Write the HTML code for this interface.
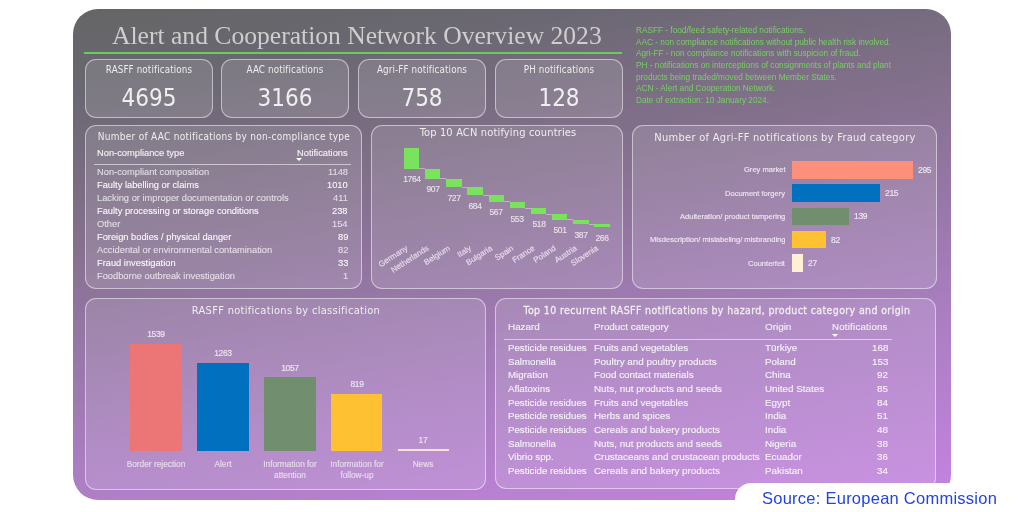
<!DOCTYPE html>
<html><head><meta charset="utf-8"><title>ACN Overview 2023</title>
<style>
    *{margin:0;padding:0;box-sizing:border-box}
    html,body{width:1024px;height:512px;overflow:hidden;background:#fff}
    body{position:relative;font-family:"Liberation Sans",Arial,sans-serif}
    .abs{position:absolute}
    .t{position:absolute;white-space:nowrap;line-height:1;will-change:transform}
    #main{position:absolute;left:73px;top:9px;width:878px;height:491px;border-radius:25px;
     background:linear-gradient(170deg,#656565 0%,#696770 12%,#83708c 35%,#a97ec0 70%,#c483e0 100%)}
    .pnl{position:absolute;border:1px solid rgba(255,255,255,.5);background:rgba(255,255,255,.12);border-radius:11px}
    </style></head><body>
<div id="main"></div>
<div class="t" style="top:23px;font-size:25.6px;color:#cecece;left:111.60px;font-family:'Liberation Serif',serif;">Alert and Cooperation Network Overview 2023</div>
<div class="abs" style="left:84.00px;top:52.00px;width:538.00px;height:2.00px;background:#6bcb5b;"></div>
<div class="pnl" style="left:85px;top:59px;width:128px;height:59px"></div>
<div class="t" style="top:65px;font-size:9.75px;color:#ececec;left:-151.00px;width:600px;text-align:center;font-family:'DejaVu Sans Condensed','Liberation Sans',sans-serif;letter-spacing:0.12px;">RASFF notifications</div>
<div class="t" style="top:86px;font-size:24px;color:#efefef;left:-151.00px;width:600px;text-align:center;font-family:'DejaVu Sans Condensed','Liberation Sans',sans-serif;letter-spacing:0px;">4695</div>
<div class="pnl" style="left:221px;top:59px;width:128px;height:59px"></div>
<div class="t" style="top:65px;font-size:9.75px;color:#ececec;left:-15.00px;width:600px;text-align:center;font-family:'DejaVu Sans Condensed','Liberation Sans',sans-serif;letter-spacing:0.12px;">AAC notifications</div>
<div class="t" style="top:86px;font-size:24px;color:#efefef;left:-15.00px;width:600px;text-align:center;font-family:'DejaVu Sans Condensed','Liberation Sans',sans-serif;letter-spacing:0px;">3166</div>
<div class="pnl" style="left:358px;top:59px;width:128px;height:59px"></div>
<div class="t" style="top:65px;font-size:9.75px;color:#ececec;left:122.00px;width:600px;text-align:center;font-family:'DejaVu Sans Condensed','Liberation Sans',sans-serif;letter-spacing:0.12px;">Agri-FF notifications</div>
<div class="t" style="top:86px;font-size:24px;color:#efefef;left:122.00px;width:600px;text-align:center;font-family:'DejaVu Sans Condensed','Liberation Sans',sans-serif;letter-spacing:0px;">758</div>
<div class="pnl" style="left:495px;top:59px;width:128px;height:59px"></div>
<div class="t" style="top:65px;font-size:9.75px;color:#ececec;left:259.00px;width:600px;text-align:center;font-family:'DejaVu Sans Condensed','Liberation Sans',sans-serif;letter-spacing:0.12px;">PH notifications</div>
<div class="t" style="top:86px;font-size:24px;color:#efefef;left:259.00px;width:600px;text-align:center;font-family:'DejaVu Sans Condensed','Liberation Sans',sans-serif;letter-spacing:0px;">128</div>
<div class="t" style="top:27px;font-size:8.25px;color:#78d064;left:635.80px;">RASFF - food/feed safety-related notifications.</div>
<div class="t" style="top:39px;font-size:8.25px;color:#78d064;left:635.80px;">AAC - non compliance notifications without public health risk involved.</div>
<div class="t" style="top:50px;font-size:8.25px;color:#78d064;left:635.80px;">Agri-FF - non compliance notifications with suspicion of fraud.</div>
<div class="t" style="top:62px;font-size:8.25px;color:#78d064;left:635.80px;">PH - notifications on interceptions of consignments of plants and plant</div>
<div class="t" style="top:74px;font-size:8.25px;color:#78d064;left:635.80px;">products being traded/moved between Member States.</div>
<div class="t" style="top:85px;font-size:8.25px;color:#78d064;left:635.80px;">ACN - Alert and Cooperation Network.</div>
<div class="t" style="top:97px;font-size:8.25px;color:#78d064;left:635.80px;">Date of extraction: 10 January 2024.</div>
<div class="pnl" style="left:85px;top:125px;width:277px;height:164px"></div>
<div class="pnl" style="left:371px;top:125px;width:252px;height:164px"></div>
<div class="pnl" style="left:632px;top:125px;width:305px;height:164px"></div>
<div class="pnl" style="left:85px;top:298px;width:401px;height:192px"></div>
<div class="pnl" style="left:495px;top:298px;width:441px;height:191px"></div>
<div class="t" style="top:132px;font-size:10px;color:#eeeeee;left:-76.50px;width:600px;text-align:center;font-family:'DejaVu Sans Condensed','Liberation Sans',sans-serif;letter-spacing:0.27px;">Number of AAC notifications by non-compliance type</div>
<div class="t" style="top:149px;font-size:9.3px;color:#f0f0f0;left:97.30px;-webkit-text-stroke:0.15px currentColor;">Non-compliance type</div>
<div class="t" style="top:149px;font-size:9.3px;color:#f0f0f0;right:676.50px;-webkit-text-stroke:0.15px currentColor;">Notifications</div>
<div class="abs" style="left:296.00px;top:158.20px;width:0;height:0;border-left:3.00px solid transparent;border-right:3.00px solid transparent;border-top:3.80px solid #ffffff"></div>
<div class="abs" style="left:93.70px;top:164.00px;width:257.80px;height:1.00px;background:rgba(255,255,255,.55);"></div>
<div class="t" style="top:168px;font-size:9.3px;color:rgba(255,255,255,.72);left:97.20px;-webkit-text-stroke:0.08px currentColor;">Non-compliant composition</div>
<div class="t" style="top:168px;font-size:9.3px;color:rgba(255,255,255,.72);right:676.00px;-webkit-text-stroke:0.08px currentColor;">1148</div>
<div class="t" style="top:181px;font-size:9.3px;color:rgba(255,255,255,.96);left:97.20px;-webkit-text-stroke:0.08px currentColor;">Faulty labelling or claims</div>
<div class="t" style="top:181px;font-size:9.3px;color:rgba(255,255,255,.96);right:676.00px;-webkit-text-stroke:0.08px currentColor;">1010</div>
<div class="t" style="top:194px;font-size:9.3px;color:rgba(255,255,255,.72);left:97.20px;-webkit-text-stroke:0.08px currentColor;">Lacking or improper documentation or controls</div>
<div class="t" style="top:194px;font-size:9.3px;color:rgba(255,255,255,.72);right:676.00px;-webkit-text-stroke:0.08px currentColor;">411</div>
<div class="t" style="top:207px;font-size:9.3px;color:rgba(255,255,255,.96);left:97.20px;-webkit-text-stroke:0.08px currentColor;">Faulty processing or storage conditions</div>
<div class="t" style="top:207px;font-size:9.3px;color:rgba(255,255,255,.96);right:676.00px;-webkit-text-stroke:0.08px currentColor;">238</div>
<div class="t" style="top:220px;font-size:9.3px;color:rgba(255,255,255,.72);left:97.20px;-webkit-text-stroke:0.08px currentColor;">Other</div>
<div class="t" style="top:220px;font-size:9.3px;color:rgba(255,255,255,.72);right:676.00px;-webkit-text-stroke:0.08px currentColor;">154</div>
<div class="t" style="top:233px;font-size:9.3px;color:rgba(255,255,255,.96);left:97.20px;-webkit-text-stroke:0.08px currentColor;">Foreign bodies / physical danger</div>
<div class="t" style="top:233px;font-size:9.3px;color:rgba(255,255,255,.96);right:676.00px;-webkit-text-stroke:0.08px currentColor;">89</div>
<div class="t" style="top:246px;font-size:9.3px;color:rgba(255,255,255,.72);left:97.20px;-webkit-text-stroke:0.08px currentColor;">Accidental or environmental contamination</div>
<div class="t" style="top:246px;font-size:9.3px;color:rgba(255,255,255,.72);right:676.00px;-webkit-text-stroke:0.08px currentColor;">82</div>
<div class="t" style="top:259px;font-size:9.3px;color:rgba(255,255,255,.96);left:97.20px;-webkit-text-stroke:0.08px currentColor;">Fraud investigation</div>
<div class="t" style="top:259px;font-size:9.3px;color:rgba(255,255,255,.96);right:676.00px;-webkit-text-stroke:0.08px currentColor;">33</div>
<div class="t" style="top:272px;font-size:9.3px;color:rgba(255,255,255,.72);left:97.20px;-webkit-text-stroke:0.08px currentColor;">Foodborne outbreak investigation</div>
<div class="t" style="top:272px;font-size:9.3px;color:rgba(255,255,255,.72);right:676.00px;-webkit-text-stroke:0.08px currentColor;">1</div>
<div class="t" style="top:127px;font-size:11px;color:#eeeeee;left:197.50px;width:600px;text-align:center;font-family:'DejaVu Sans Condensed','Liberation Sans',sans-serif;letter-spacing:0.16px;">Top 10 ACN notifying countries</div>
<div class="abs" style="left:403.90px;top:148.20px;width:15.30px;height:20.32px;background:#7ae35e;"></div>
<div class="abs" style="left:419.20px;top:168.02px;width:5.87px;height:0.80px;background:rgba(200,190,205,.8);"></div>
<div class="t" style="top:175px;font-size:8.5px;color:#e8e0ea;left:111.55px;width:600px;text-align:center;letter-spacing:-0.35px;-webkit-text-stroke:0.15px currentColor;">1764</div>
<div class="abs" style="left:425.07px;top:168.52px;width:15.30px;height:10.45px;background:#7ae35e;"></div>
<div class="abs" style="left:440.37px;top:178.47px;width:5.87px;height:0.80px;background:rgba(200,190,205,.8);"></div>
<div class="t" style="top:185px;font-size:8.5px;color:#e8e0ea;left:132.72px;width:600px;text-align:center;letter-spacing:-0.35px;-webkit-text-stroke:0.15px currentColor;">907</div>
<div class="abs" style="left:446.24px;top:178.97px;width:15.30px;height:8.38px;background:#7ae35e;"></div>
<div class="abs" style="left:461.54px;top:186.84px;width:5.87px;height:0.80px;background:rgba(200,190,205,.8);"></div>
<div class="t" style="top:194px;font-size:8.5px;color:#e8e0ea;left:153.89px;width:600px;text-align:center;letter-spacing:-0.35px;-webkit-text-stroke:0.15px currentColor;">727</div>
<div class="abs" style="left:467.41px;top:187.34px;width:15.30px;height:7.88px;background:#7ae35e;"></div>
<div class="abs" style="left:482.71px;top:194.72px;width:5.87px;height:0.80px;background:rgba(200,190,205,.8);"></div>
<div class="t" style="top:202px;font-size:8.5px;color:#e8e0ea;left:175.06px;width:600px;text-align:center;letter-spacing:-0.35px;-webkit-text-stroke:0.15px currentColor;">684</div>
<div class="abs" style="left:488.58px;top:195.22px;width:15.30px;height:6.53px;background:#7ae35e;"></div>
<div class="abs" style="left:503.88px;top:201.26px;width:5.87px;height:0.80px;background:rgba(200,190,205,.8);"></div>
<div class="t" style="top:208px;font-size:8.5px;color:#e8e0ea;left:196.23px;width:600px;text-align:center;letter-spacing:-0.35px;-webkit-text-stroke:0.15px currentColor;">567</div>
<div class="abs" style="left:509.75px;top:201.76px;width:15.30px;height:6.37px;background:#7ae35e;"></div>
<div class="abs" style="left:525.05px;top:207.63px;width:5.87px;height:0.80px;background:rgba(200,190,205,.8);"></div>
<div class="t" style="top:215px;font-size:8.5px;color:#e8e0ea;left:217.40px;width:600px;text-align:center;letter-spacing:-0.35px;-webkit-text-stroke:0.15px currentColor;">553</div>
<div class="abs" style="left:530.92px;top:208.13px;width:15.30px;height:5.97px;background:#7ae35e;"></div>
<div class="abs" style="left:546.22px;top:213.59px;width:5.87px;height:0.80px;background:rgba(200,190,205,.8);"></div>
<div class="t" style="top:220px;font-size:8.5px;color:#e8e0ea;left:238.57px;width:600px;text-align:center;letter-spacing:-0.35px;-webkit-text-stroke:0.15px currentColor;">518</div>
<div class="abs" style="left:552.09px;top:214.09px;width:15.30px;height:5.77px;background:#7ae35e;"></div>
<div class="abs" style="left:567.39px;top:219.37px;width:5.87px;height:0.80px;background:rgba(200,190,205,.8);"></div>
<div class="t" style="top:226px;font-size:8.5px;color:#e8e0ea;left:259.74px;width:600px;text-align:center;letter-spacing:-0.35px;-webkit-text-stroke:0.15px currentColor;">501</div>
<div class="abs" style="left:573.26px;top:219.87px;width:15.30px;height:4.46px;background:#7ae35e;"></div>
<div class="abs" style="left:588.56px;top:223.82px;width:5.87px;height:0.80px;background:rgba(200,190,205,.8);"></div>
<div class="t" style="top:231px;font-size:8.5px;color:#e8e0ea;left:280.91px;width:600px;text-align:center;letter-spacing:-0.35px;-webkit-text-stroke:0.15px currentColor;">387</div>
<div class="abs" style="left:594.43px;top:224.32px;width:15.30px;height:3.06px;background:#7ae35e;"></div>
<div class="t" style="top:234px;font-size:8.5px;color:#e8e0ea;left:302.08px;width:600px;text-align:center;letter-spacing:-0.35px;-webkit-text-stroke:0.15px currentColor;">266</div>
<svg class="abs" style="left:0;top:0;will-change:transform" width="1024" height="512"><g font-family="Liberation Sans, Arial, sans-serif" font-size="8" fill="#e6dcea" stroke="#e6dcea" stroke-width="0.15"><text x="408.25" y="249.5" text-anchor="end" transform="rotate(-33 408.25 249.5)">Germany</text><text x="429.42" y="249.5" text-anchor="end" transform="rotate(-33 429.42 249.5)">Netherlands</text><text x="450.59" y="249.5" text-anchor="end" transform="rotate(-33 450.59 249.5)">Belgium</text><text x="471.76" y="249.5" text-anchor="end" transform="rotate(-33 471.76 249.5)">Italy</text><text x="492.93" y="249.5" text-anchor="end" transform="rotate(-33 492.93 249.5)">Bulgaria</text><text x="514.10" y="249.5" text-anchor="end" transform="rotate(-33 514.10 249.5)">Spain</text><text x="535.27" y="249.5" text-anchor="end" transform="rotate(-33 535.27 249.5)">France</text><text x="556.44" y="249.5" text-anchor="end" transform="rotate(-33 556.44 249.5)">Poland</text><text x="577.61" y="249.5" text-anchor="end" transform="rotate(-33 577.61 249.5)">Austria</text><text x="598.78" y="249.5" text-anchor="end" transform="rotate(-33 598.78 249.5)">Slovenia</text></g></svg>
<div class="t" style="top:132px;font-size:11px;color:#eeeeee;left:484.50px;width:600px;text-align:center;font-family:'DejaVu Sans Condensed','Liberation Sans',sans-serif;letter-spacing:0.29px;">Number of Agri-FF notifications by Fraud category</div>
<div class="abs" style="left:791.90px;top:160.90px;width:120.95px;height:17.70px;background:#fd907a;"></div>
<div class="t" style="top:166px;font-size:7.55px;color:#eee6f0;right:238.70px;-webkit-text-stroke:0.15px currentColor;">Grey market</div>
<div class="t" style="top:166px;font-size:8.5px;color:#eee6f0;left:917.85px;letter-spacing:-0.3px;-webkit-text-stroke:0.15px currentColor;">295</div>
<div class="abs" style="left:791.90px;top:184.20px;width:88.15px;height:17.70px;background:#0070bf;"></div>
<div class="t" style="top:190px;font-size:7.55px;color:#eee6f0;right:238.70px;-webkit-text-stroke:0.15px currentColor;">Document forgery</div>
<div class="t" style="top:189px;font-size:8.5px;color:#eee6f0;left:885.05px;letter-spacing:-0.3px;-webkit-text-stroke:0.15px currentColor;">215</div>
<div class="abs" style="left:791.90px;top:207.50px;width:56.99px;height:17.70px;background:#718f6f;"></div>
<div class="t" style="top:213px;font-size:7.55px;color:#eee6f0;right:238.70px;-webkit-text-stroke:0.15px currentColor;">Adulteration/ product tampering</div>
<div class="t" style="top:212px;font-size:8.5px;color:#eee6f0;left:853.89px;letter-spacing:-0.3px;-webkit-text-stroke:0.15px currentColor;">139</div>
<div class="abs" style="left:791.90px;top:230.80px;width:33.62px;height:17.70px;background:#fdc132;"></div>
<div class="t" style="top:236px;font-size:7.55px;color:#eee6f0;right:238.70px;-webkit-text-stroke:0.15px currentColor;">Misdescription/ mislabeling/ misbranding</div>
<div class="t" style="top:236px;font-size:8.5px;color:#eee6f0;left:830.52px;letter-spacing:-0.3px;-webkit-text-stroke:0.15px currentColor;">82</div>
<div class="abs" style="left:791.90px;top:254.10px;width:11.07px;height:17.70px;background:#fff0d4;"></div>
<div class="t" style="top:260px;font-size:7.55px;color:#eee6f0;right:238.70px;-webkit-text-stroke:0.15px currentColor;">Counterfeit</div>
<div class="t" style="top:259px;font-size:8.5px;color:#eee6f0;left:807.97px;letter-spacing:-0.3px;-webkit-text-stroke:0.15px currentColor;">27</div>
<div class="t" style="top:305px;font-size:11px;color:#eeeeee;left:-14.50px;width:600px;text-align:center;font-family:'DejaVu Sans Condensed','Liberation Sans',sans-serif;letter-spacing:0.3px;">RASFF notifications by classification</div>
<div class="abs" style="left:130.40px;top:343.64px;width:51.60px;height:106.96px;background:#ec7675;"></div>
<div class="t" style="top:330px;font-size:8.5px;color:#eee6f0;left:-143.80px;width:600px;text-align:center;letter-spacing:-0.35px;-webkit-text-stroke:0.15px currentColor;">1539</div>
<div class="t" style="top:460px;font-size:8.3px;color:#e6dcea;left:-143.80px;width:600px;text-align:center;-webkit-text-stroke:0.15px currentColor;">Border rejection</div>
<div class="abs" style="left:197.20px;top:362.82px;width:51.60px;height:87.78px;background:#0070bf;"></div>
<div class="t" style="top:349px;font-size:8.5px;color:#eee6f0;left:-77.00px;width:600px;text-align:center;letter-spacing:-0.35px;-webkit-text-stroke:0.15px currentColor;">1263</div>
<div class="t" style="top:460px;font-size:8.3px;color:#e6dcea;left:-77.00px;width:600px;text-align:center;-webkit-text-stroke:0.15px currentColor;">Alert</div>
<div class="abs" style="left:264.00px;top:377.14px;width:51.60px;height:73.46px;background:#718f6f;"></div>
<div class="t" style="top:364px;font-size:8.5px;color:#eee6f0;left:-10.20px;width:600px;text-align:center;letter-spacing:-0.35px;-webkit-text-stroke:0.15px currentColor;">1057</div>
<div class="t" style="top:460px;font-size:8.3px;color:#e6dcea;left:-10.20px;width:600px;text-align:center;-webkit-text-stroke:0.15px currentColor;">Information for</div>
<div class="t" style="top:471px;font-size:8.3px;color:#e6dcea;left:-10.20px;width:600px;text-align:center;-webkit-text-stroke:0.15px currentColor;">attention</div>
<div class="abs" style="left:330.80px;top:393.68px;width:51.60px;height:56.92px;background:#fdc132;"></div>
<div class="t" style="top:380px;font-size:8.5px;color:#eee6f0;left:56.60px;width:600px;text-align:center;letter-spacing:-0.35px;-webkit-text-stroke:0.15px currentColor;">819</div>
<div class="t" style="top:460px;font-size:8.3px;color:#e6dcea;left:56.60px;width:600px;text-align:center;-webkit-text-stroke:0.15px currentColor;">Information for</div>
<div class="t" style="top:471px;font-size:8.3px;color:#e6dcea;left:56.60px;width:600px;text-align:center;-webkit-text-stroke:0.15px currentColor;">follow-up</div>
<div class="abs" style="left:397.60px;top:449.42px;width:51.60px;height:1.18px;background:#f5e3da;"></div>
<div class="t" style="top:436px;font-size:8.5px;color:#eee6f0;left:123.40px;width:600px;text-align:center;letter-spacing:-0.35px;-webkit-text-stroke:0.15px currentColor;">17</div>
<div class="t" style="top:460px;font-size:8.3px;color:#e6dcea;left:123.40px;width:600px;text-align:center;-webkit-text-stroke:0.15px currentColor;">News</div>
<div class="t" style="top:305px;font-size:10.5px;color:#eeeeee;left:416.60px;width:600px;text-align:center;font-family:'DejaVu Sans Condensed','Liberation Sans',sans-serif;letter-spacing:0.38px;-webkit-text-stroke:0.3px #eeeeee;">Top 10 recurrent RASFF notifications by hazard, product category and origin</div>
<div class="t" style="top:322px;font-size:9.9px;color:#f0f0f0;left:507.80px;-webkit-text-stroke:0.15px currentColor;">Hazard</div>
<div class="t" style="top:322px;font-size:9.9px;color:#f0f0f0;left:593.50px;-webkit-text-stroke:0.15px currentColor;">Product category</div>
<div class="t" style="top:322px;font-size:9.9px;color:#f0f0f0;left:765.40px;-webkit-text-stroke:0.15px currentColor;">Origin</div>
<div class="t" style="top:322px;font-size:9.65px;color:#f0f0f0;right:136.50px;letter-spacing:0.25px;-webkit-text-stroke:0.15px currentColor;">Notifications</div>
<div class="abs" style="left:832.10px;top:333.60px;width:0;height:0;border-left:3.00px solid transparent;border-right:3.00px solid transparent;border-top:3.80px solid #ffffff"></div>
<div class="abs" style="left:504.20px;top:339.00px;width:387.80px;height:1.00px;background:rgba(255,255,255,.55);"></div>
<div class="t" style="top:343px;font-size:9.7px;color:#f4f0f6;left:507.80px;-webkit-text-stroke:0.15px currentColor;">Pesticide residues</div>
<div class="t" style="top:343px;font-size:9.85px;color:#f4f0f6;left:593.50px;-webkit-text-stroke:0.15px currentColor;">Fruits and vegetables</div>
<div class="t" style="top:343px;font-size:9.85px;color:#f4f0f6;left:765.40px;-webkit-text-stroke:0.15px currentColor;">Türkiye</div>
<div class="t" style="top:343px;font-size:9.85px;color:#f4f0f6;right:136.00px;-webkit-text-stroke:0.15px currentColor;">168</div>
<div class="t" style="top:357px;font-size:9.7px;color:#f4f0f6;left:507.80px;-webkit-text-stroke:0.15px currentColor;">Salmonella</div>
<div class="t" style="top:357px;font-size:9.85px;color:#f4f0f6;left:593.50px;-webkit-text-stroke:0.15px currentColor;">Poultry and poultry products</div>
<div class="t" style="top:357px;font-size:9.85px;color:#f4f0f6;left:765.40px;-webkit-text-stroke:0.15px currentColor;">Poland</div>
<div class="t" style="top:357px;font-size:9.85px;color:#f4f0f6;right:136.00px;-webkit-text-stroke:0.15px currentColor;">153</div>
<div class="t" style="top:370px;font-size:9.7px;color:#f4f0f6;left:507.80px;-webkit-text-stroke:0.15px currentColor;">Migration</div>
<div class="t" style="top:370px;font-size:9.85px;color:#f4f0f6;left:593.50px;-webkit-text-stroke:0.15px currentColor;">Food contact materials</div>
<div class="t" style="top:370px;font-size:9.85px;color:#f4f0f6;left:765.40px;-webkit-text-stroke:0.15px currentColor;">China</div>
<div class="t" style="top:370px;font-size:9.85px;color:#f4f0f6;right:136.00px;-webkit-text-stroke:0.15px currentColor;">92</div>
<div class="t" style="top:384px;font-size:9.7px;color:#f4f0f6;left:507.80px;-webkit-text-stroke:0.15px currentColor;">Aflatoxins</div>
<div class="t" style="top:384px;font-size:9.85px;color:#f4f0f6;left:593.50px;-webkit-text-stroke:0.15px currentColor;">Nuts, nut products and seeds</div>
<div class="t" style="top:384px;font-size:9.85px;color:#f4f0f6;left:765.40px;-webkit-text-stroke:0.15px currentColor;">United States</div>
<div class="t" style="top:384px;font-size:9.85px;color:#f4f0f6;right:136.00px;-webkit-text-stroke:0.15px currentColor;">85</div>
<div class="t" style="top:398px;font-size:9.7px;color:#f4f0f6;left:507.80px;-webkit-text-stroke:0.15px currentColor;">Pesticide residues</div>
<div class="t" style="top:398px;font-size:9.85px;color:#f4f0f6;left:593.50px;-webkit-text-stroke:0.15px currentColor;">Fruits and vegetables</div>
<div class="t" style="top:398px;font-size:9.85px;color:#f4f0f6;left:765.40px;-webkit-text-stroke:0.15px currentColor;">Egypt</div>
<div class="t" style="top:398px;font-size:9.85px;color:#f4f0f6;right:136.00px;-webkit-text-stroke:0.15px currentColor;">84</div>
<div class="t" style="top:411px;font-size:9.7px;color:#f4f0f6;left:507.80px;-webkit-text-stroke:0.15px currentColor;">Pesticide residues</div>
<div class="t" style="top:411px;font-size:9.85px;color:#f4f0f6;left:593.50px;-webkit-text-stroke:0.15px currentColor;">Herbs and spices</div>
<div class="t" style="top:411px;font-size:9.85px;color:#f4f0f6;left:765.40px;-webkit-text-stroke:0.15px currentColor;">India</div>
<div class="t" style="top:411px;font-size:9.85px;color:#f4f0f6;right:136.00px;-webkit-text-stroke:0.15px currentColor;">51</div>
<div class="t" style="top:425px;font-size:9.7px;color:#f4f0f6;left:507.80px;-webkit-text-stroke:0.15px currentColor;">Pesticide residues</div>
<div class="t" style="top:425px;font-size:9.85px;color:#f4f0f6;left:593.50px;-webkit-text-stroke:0.15px currentColor;">Cereals and bakery products</div>
<div class="t" style="top:425px;font-size:9.85px;color:#f4f0f6;left:765.40px;-webkit-text-stroke:0.15px currentColor;">India</div>
<div class="t" style="top:425px;font-size:9.85px;color:#f4f0f6;right:136.00px;-webkit-text-stroke:0.15px currentColor;">48</div>
<div class="t" style="top:439px;font-size:9.7px;color:#f4f0f6;left:507.80px;-webkit-text-stroke:0.15px currentColor;">Salmonella</div>
<div class="t" style="top:439px;font-size:9.85px;color:#f4f0f6;left:593.50px;-webkit-text-stroke:0.15px currentColor;">Nuts, nut products and seeds</div>
<div class="t" style="top:439px;font-size:9.85px;color:#f4f0f6;left:765.40px;-webkit-text-stroke:0.15px currentColor;">Nigeria</div>
<div class="t" style="top:439px;font-size:9.85px;color:#f4f0f6;right:136.00px;-webkit-text-stroke:0.15px currentColor;">38</div>
<div class="t" style="top:452px;font-size:9.7px;color:#f4f0f6;left:507.80px;-webkit-text-stroke:0.15px currentColor;">Vibrio spp.</div>
<div class="t" style="top:452px;font-size:9.85px;color:#f4f0f6;left:593.50px;-webkit-text-stroke:0.15px currentColor;">Crustaceans and crustacean products</div>
<div class="t" style="top:452px;font-size:9.85px;color:#f4f0f6;left:765.40px;-webkit-text-stroke:0.15px currentColor;">Ecuador</div>
<div class="t" style="top:452px;font-size:9.85px;color:#f4f0f6;right:136.00px;-webkit-text-stroke:0.15px currentColor;">36</div>
<div class="t" style="top:466px;font-size:9.7px;color:#f4f0f6;left:507.80px;-webkit-text-stroke:0.15px currentColor;">Pesticide residues</div>
<div class="t" style="top:466px;font-size:9.85px;color:#f4f0f6;left:593.50px;-webkit-text-stroke:0.15px currentColor;">Cereals and bakery products</div>
<div class="t" style="top:466px;font-size:9.85px;color:#f4f0f6;left:765.40px;-webkit-text-stroke:0.15px currentColor;">Pakistan</div>
<div class="t" style="top:466px;font-size:9.85px;color:#f4f0f6;right:136.00px;-webkit-text-stroke:0.15px currentColor;">34</div>
<div class="abs" style="left:735.00px;top:483.00px;width:289.00px;height:29.00px;background:#ffffff;border-top-left-radius:16px;"></div>
<div class="t" style="top:490px;font-size:16.5px;color:#2343e6;left:761.60px;letter-spacing:0.25px;">Source: European Commission</div>
</body></html>
